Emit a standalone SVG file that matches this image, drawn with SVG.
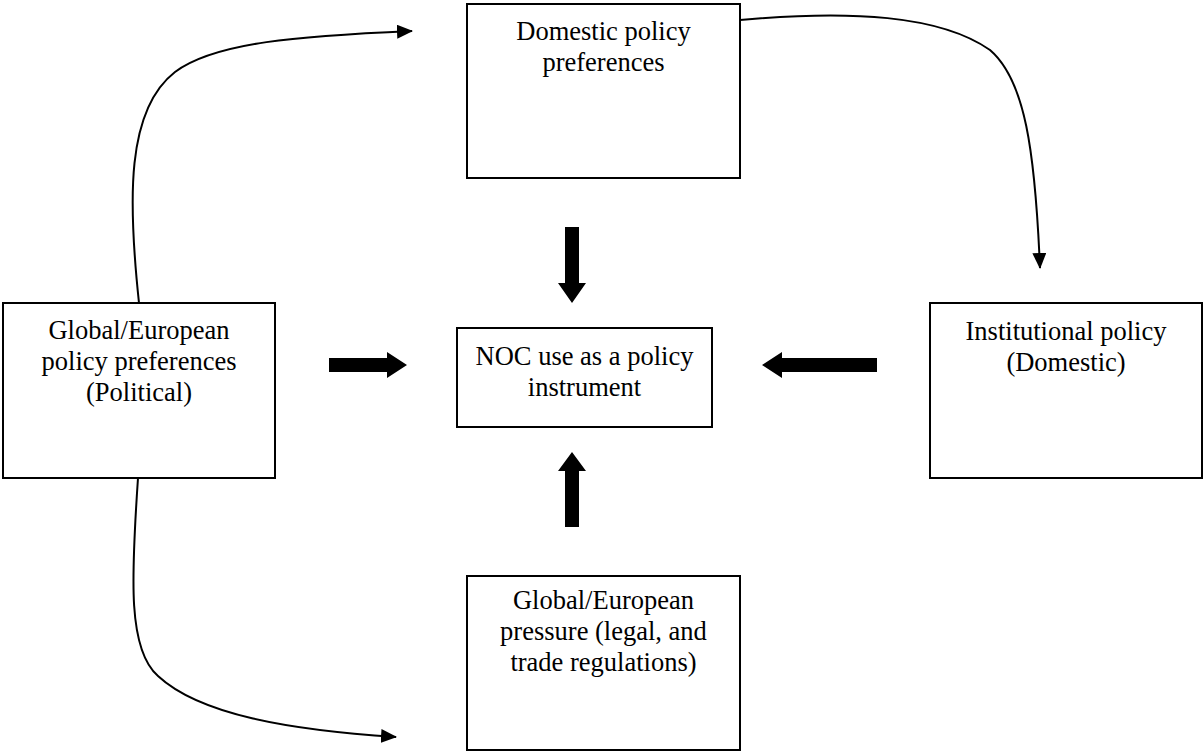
<svg xmlns="http://www.w3.org/2000/svg" width="1204" height="751" viewBox="0 0 1204 751">
<defs>
<marker id="ah" markerWidth="16" markerHeight="14" refX="15" refY="7" orient="auto" markerUnits="userSpaceOnUse">
<path d="M0,0 L16,7 L0,14 Z" fill="#000"/>
</marker>
<style>
.box{fill:#fff;stroke:#000;stroke-width:2}
.t{font-family:"Liberation Serif","Times New Roman",serif;font-size:26.5px;fill:#000;text-anchor:middle}
.c{fill:none;stroke:#000;stroke-width:2}
.blk{fill:#000}
</style>
</defs>
<rect width="1204" height="751" fill="#fff"/>
<g id="connectors">
<path class="c" d="M139,303 C128,200 126,110 175,72 C215,42 300,36 412,31" marker-end="url(#ah)"/>
<path class="c" d="M740,20 C850,10 940,15 990,50 C1025,80 1035,150 1040,268" marker-end="url(#ah)"/>
<path class="c" d="M138,478 C131,580 128,650 158,676 C200,715 290,730 396,737" marker-end="url(#ah)"/>
<polygon class="blk" points="565,227 579,227 579,283 586,283 572,303 558,283 565,283"/>
<polygon class="blk" points="565,527 579,527 579,471 586,471 572,452 558,471 565,471"/>
<polygon class="blk" points="329,358 387,358 387,352 407,365 387,378 387,372 329,372"/>
<polygon class="blk" points="877,358 782,358 782,352 762,365 782,378 782,372 877,372"/>
</g>
<g id="domestic">
<rect class="box" x="467" y="4" width="273" height="174"/>
<text class="t" x="603.5" y="40">Domestic policy</text>
<text class="t" x="603.5" y="71">preferences</text>
</g>
<g id="global-political">
<rect class="box" x="3" y="303" width="272" height="175"/>
<text class="t" x="139" y="339">Global/European</text>
<text class="t" x="139" y="370">policy preferences</text>
<text class="t" x="139" y="401">(Political)</text>
</g>
<g id="noc">
<rect class="box" x="457" y="328" width="255" height="99"/>
<text class="t" x="584.5" y="365">NOC use as a policy</text>
<text class="t" x="584.5" y="396">instrument</text>
</g>
<g id="institutional">
<rect class="box" x="930" y="303" width="272" height="175"/>
<text class="t" x="1066" y="340">Institutional policy</text>
<text class="t" x="1066" y="371">(Domestic)</text>
</g>
<g id="global-pressure">
<rect class="box" x="467" y="576" width="273" height="174"/>
<text class="t" x="603.5" y="609">Global/European</text>
<text class="t" x="603.5" y="640">pressure (legal, and</text>
<text class="t" x="603.5" y="671">trade regulations)</text>
</g>
</svg>
